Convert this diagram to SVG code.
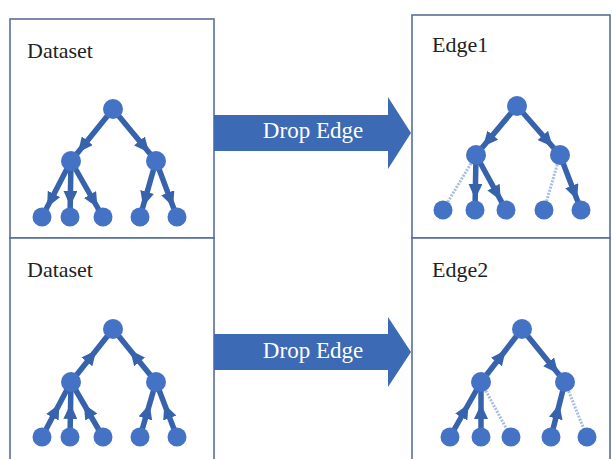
<svg xmlns="http://www.w3.org/2000/svg" width="612" height="459" viewBox="0 0 612 459">
<style>
.box{fill:#ffffff;stroke:#56719c;stroke-width:1.6}
.lbl{font-family:"Liberation Serif","Times New Roman",serif;font-size:22px;fill:#222222}
.arr{fill:#3d6ab5}
.atxt{font-family:"Liberation Serif","Times New Roman",serif;font-size:23px;fill:#ffffff;text-anchor:middle}
.e{fill:none;stroke:#3763ad;stroke-width:5.5;marker-mid:url(#ah)}
.d{fill:none;stroke:#a9bde2;stroke-width:3;stroke-dasharray:2 1.3}
.n{fill:#4472c4}
</style>
<defs>
<marker id="ah" markerUnits="userSpaceOnUse" markerWidth="16" markerHeight="14" refX="15" refY="7" orient="auto"><path d="M0,0 L15,7 L0,14 z" fill="#3763ad"/></marker>
</defs>
<rect width="612" height="459" fill="#ffffff"/>
<g id="box-dataset1"><rect class="box" x="10" y="19" width="204" height="219"/><text class="lbl" x="27" y="58">Dataset</text></g>
<g id="box-dataset2"><rect class="box" x="10" y="238" width="204" height="230"/><text class="lbl" x="27" y="277">Dataset</text></g>
<g id="box-edge1"><rect class="box" x="412" y="15" width="198" height="223"/><text class="lbl" x="432" y="52">Edge1</text></g>
<g id="box-edge2"><rect class="box" x="412" y="238" width="198" height="230"/><text class="lbl" x="432" y="277">Edge2</text></g>
<g id="arrow1"><polygon class="arr" points="214,115 388,115 388,97 411,133 388,169 388,151 214,151"/><text class="atxt" x="313" y="138">Drop Edge</text></g>
<g id="arrow2"><polygon class="arr" points="214,334 388,334 388,317 411,352 388,387 388,370 214,370"/><text class="atxt" x="313" y="358">Drop Edge</text></g>
<g id="connectors">
<path class="e" d="M113,109 L77.9,152.4 L71,161"/>
<path class="e" d="M113,109 L149,152.5 L156,161"/>
<path class="e" d="M71,161 L47.1,207.2 L42,217"/>
<path class="e" d="M71,161 L70.2,206 L70,217"/>
<path class="e" d="M71,161 L97.5,207.5 L103,217"/>
<path class="e" d="M156,161 L143,206.4 L140,217"/>
<path class="e" d="M156,161 L173.1,206.7 L177,217"/>
<path class="e" d="M517,106 L483.1,146.6 L476,155"/>
<path class="e" d="M517,106 L552.7,146.7 L560,155"/>
<path class="e" d="M476,155 L475.2,199 L475,210"/>
<path class="e" d="M476,155 L500.7,200.3 L506,210"/>
<path class="e" d="M560,155 L577.1,199.7 L581,210"/>
<path class="d" d="M476,155 L443,210"/>
<path class="d" d="M560,155 L544,210"/>
<path class="e" d="M71,382 L96.2,350.2 L113,329"/>
<path class="e" d="M156,382 L130.2,350.2 L113,329"/>
<path class="e" d="M42,437 L59.4,404 L71,382"/>
<path class="e" d="M70,437 L70.6,404 L71,382"/>
<path class="e" d="M103,437 L83.8,404 L71,382"/>
<path class="e" d="M140,437 L149.6,404 L156,382"/>
<path class="e" d="M177,437 L164.4,404 L156,382"/>
<path class="e" d="M481,382 L505.6,350.2 L522,329"/>
<path class="e" d="M522,329 L558.1,373.5 L565,382"/>
<path class="e" d="M450,437 L468.6,404 L481,382"/>
<path class="e" d="M481,437 L481,404 L481,382"/>
<path class="e" d="M551,437 L559.4,404 L565,382"/>
<path class="d" d="M481,382 L511,437"/>
<path class="d" d="M565,382 L587,437"/>
</g>
<g id="nodes-tl">
<circle class="n" cx="113" cy="109" r="10"/><circle class="n" cx="71" cy="161" r="10"/><circle class="n" cx="156" cy="161" r="10"/>
<circle class="n" cx="42" cy="217" r="9.5"/><circle class="n" cx="70" cy="217" r="9.5"/><circle class="n" cx="103" cy="217" r="9.5"/><circle class="n" cx="140" cy="217" r="9.5"/><circle class="n" cx="177" cy="217" r="9.5"/>
</g>
<g id="nodes-tr">
<circle class="n" cx="517" cy="106" r="10"/><circle class="n" cx="476" cy="155" r="10"/><circle class="n" cx="560" cy="155" r="10"/>
<circle class="n" cx="443" cy="210" r="9.5"/><circle class="n" cx="475" cy="210" r="9.5"/><circle class="n" cx="506" cy="210" r="9.5"/><circle class="n" cx="544" cy="210" r="9.5"/><circle class="n" cx="581" cy="210" r="9.5"/>
</g>
<g id="nodes-bl">
<circle class="n" cx="113" cy="329" r="10"/><circle class="n" cx="71" cy="382" r="10"/><circle class="n" cx="156" cy="382" r="10"/>
<circle class="n" cx="42" cy="437" r="9.5"/><circle class="n" cx="70" cy="437" r="9.5"/><circle class="n" cx="103" cy="437" r="9.5"/><circle class="n" cx="140" cy="437" r="9.5"/><circle class="n" cx="177" cy="437" r="9.5"/>
</g>
<g id="nodes-br">
<circle class="n" cx="522" cy="329" r="10"/><circle class="n" cx="481" cy="382" r="10"/><circle class="n" cx="565" cy="382" r="10"/>
<circle class="n" cx="450" cy="437" r="9.5"/><circle class="n" cx="481" cy="437" r="9.5"/><circle class="n" cx="511" cy="437" r="9.5"/><circle class="n" cx="551" cy="437" r="9.5"/><circle class="n" cx="587" cy="437" r="9.5"/>
</g>
</svg>
